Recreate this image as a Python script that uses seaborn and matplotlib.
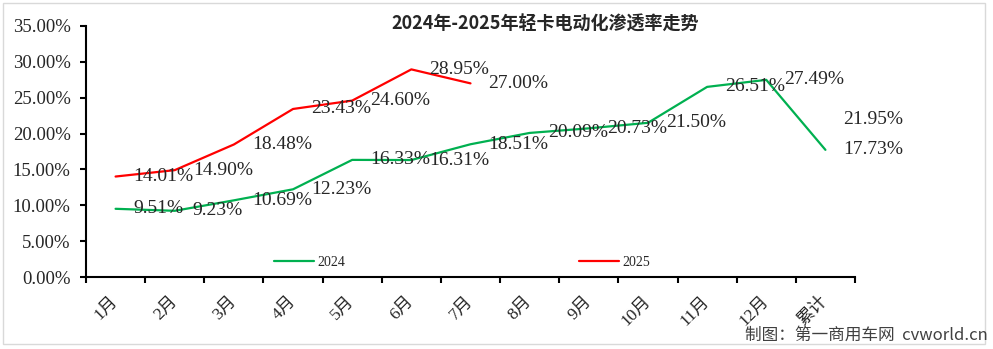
import matplotlib
matplotlib.use('Agg')
import matplotlib.pyplot as plt
import seaborn as sns
import pandas as pd
from matplotlib.ticker import FuncFormatter
from matplotlib.patches import Rectangle

categories = ['1月', '2月', '3月', '4月', '5月', '6月', '7月', '8月', '9月', '10月', '11月', '12月', '累计']
values_2024 = [9.51, 9.23, 10.69, 12.23, 16.33, 16.31, 18.51, 20.09, 20.73, 21.50, 26.51, 27.49, 17.73]
values_2025 = [14.01, 14.90, 18.48, 23.43, 24.60, 28.95, 27.00]
cumulative_2025 = 21.95
y_ticks = [0, 5, 10, 15, 20, 25, 30, 35]
series_names = ['2024', '2025']
title = '2024年-2025年轻卡电动化渗透率走势'
source = '制图：第一商用车网  cvworld.cn'

sns.set_theme(style='white')
plt.rcParams['font.family'] = ['Liberation Serif', 'Noto Sans CJK SC']

W, H = 993, 349
fig = plt.figure(figsize=(W / 100, H / 100), dpi=100)
ax = fig.add_axes([86 / W, 1 - 277 / H, (855 - 86) / W, (277 - 26) / H])

pos = list(range(len(categories)))
df24 = pd.DataFrame({'x': pos, 'y': values_2024})
df25 = pd.DataFrame({'x': pos[:len(values_2025)], 'y': values_2025})
green, red = '#00B050', '#FF0000'
sns.lineplot(data=df24, x='x', y='y', color=green, lw=1.6, label=series_names[0], ax=ax)
sns.lineplot(data=df25, x='x', y='y', color=red, lw=1.6, label=series_names[1], ax=ax)

def lab(x, v):
    ax.annotate(f'{v:.2f}%', (x, v), xytext=(18, 0), textcoords='offset pixels',
                ha='left', va='center', fontsize=14, color='#262626')

for i, v in enumerate(values_2024):
    lab(i, v)
for i, v in enumerate(values_2025):
    lab(i, v)
lab(len(categories) - 1, cumulative_2025)

ax.set_xlim(-0.5, len(categories) - 0.5)
ax.set_ylim(y_ticks[0], y_ticks[-1])
ax.set_yticks(y_ticks)
ax.yaxis.set_major_formatter(FuncFormatter(lambda v, p: f'{v:.2f}%'))
ax.set_xticks(pos)
ax.set_xticklabels(categories, rotation=45, ha='right', va='center', rotation_mode='anchor',
                   fontsize=12.5, color='#262626')
ax.set_xticks([i - 0.5 for i in range(len(categories) + 1)], minor=True)
ax.tick_params(axis='x', which='major', length=0, pad=16)
ax.tick_params(axis='x', which='minor', length=4, width=1.5, direction='out', color='black', bottom=True)
ax.tick_params(axis='y', which='major', length=4, width=1.5, direction='out', color='black', left=True,
               pad=7, labelsize=13.5, labelcolor='#262626')
ax.set_xlabel('')
ax.set_ylabel('')
for s in ['top', 'right']:
    ax.spines[s].set_visible(False)
for s in ['left', 'bottom']:
    ax.spines[s].set_color('black')
    ax.spines[s].set_linewidth(1.5)
ax.grid(False)

handles, labels = ax.get_legend_handles_labels()
ax.legend(handles, labels, loc='center', bbox_to_anchor=(462 / W, 1 - 262 / H),
          bbox_transform=fig.transFigure, ncol=2, frameon=False, fontsize=10,
          handlelength=2.9, handletextpad=0.25, columnspacing=16.8)

fig.text(545 / W, 1 - 24 / H, title, ha='center', va='center', fontsize=13,
         fontweight='bold', family=['Noto Sans CJK SC'])
fig.text(988 / W, 1 - 335 / H, source, ha='right', va='center', fontsize=12,
         color='#404040', family=['Noto Sans CJK SC'])

fig.add_artist(Rectangle((3 / W, 5 / H), (985 - 3) / W, (344 - 3) / H, transform=fig.transFigure,
                         fill=False, edgecolor='#d9d9d9', lw=1, zorder=-1))

fig.savefig('out.png', dpi=100)
